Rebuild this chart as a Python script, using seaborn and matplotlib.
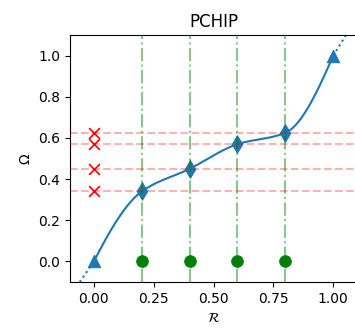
import numpy as np
import matplotlib
matplotlib.use('Agg')
import matplotlib.pyplot as plt
import seaborn as sns

# Knots of the interpolant
x_knots = [0.0, 0.2, 0.4, 0.6, 0.8, 1.0]
y_knots = [0.0, 0.34, 0.45, 0.57, 0.625, 1.0]

# Sample positions (green dots on the R axis) and their values (red crosses)
x_samples = [0.2, 0.4, 0.6, 0.8]
y_samples = [0.34, 0.45, 0.57, 0.625]

x_ticks = [0.0, 0.25, 0.5, 0.75, 1.0]
y_ticks = [0.0, 0.2, 0.4, 0.6, 0.8, 1.0]


def pchip_slopes(x, y):
    """Fritsch-Carlson slopes, same rules as scipy's PchipInterpolator"""
    h = np.diff(x)
    delta = np.diff(y) / h
    d = np.zeros_like(y)
    for k in range(1, len(x) - 1):
        if delta[k - 1] * delta[k] <= 0:
            d[k] = 0.0
        else:
            w1 = 2 * h[k] + h[k - 1]
            w2 = h[k] + 2 * h[k - 1]
            d[k] = (w1 + w2) / (w1 / delta[k - 1] + w2 / delta[k])

    def edge(h0, h1, m0, m1):
        dd = ((2 * h0 + h1) * m0 - h0 * m1) / (h0 + h1)
        if np.sign(dd) != np.sign(m0):
            dd = 0.0
        elif np.sign(m0) != np.sign(m1) and abs(dd) > 3 * abs(m0):
            dd = 3 * m0
        return dd

    d[0] = edge(h[0], h[1], delta[0], delta[1])
    d[-1] = edge(h[-1], h[-2], delta[-1], delta[-2])
    return d


def pchip_eval(x, y, xs):
    x = np.asarray(x, float)
    y = np.asarray(y, float)
    d = pchip_slopes(x, y)
    idx = np.clip(np.searchsorted(x, xs) - 1, 0, len(x) - 2)
    h = x[idx + 1] - x[idx]
    t = (xs - x[idx]) / h
    h00 = 2 * t**3 - 3 * t**2 + 1
    h10 = t**3 - 2 * t**2 + t
    h01 = -2 * t**3 + 3 * t**2
    h11 = t**3 - t**2
    return h00 * y[idx] + h10 * h * d[idx] + h01 * y[idx + 1] + h11 * h * d[idx + 1]


fig = plt.figure(figsize=(3.55, 3.31), dpi=100)
ax = fig.add_axes([0.197, 0.148, 0.809, 0.746])

# linear extension outside the knots (dotted), using the end chords
slope_lo = (y_knots[1] - y_knots[0]) / (x_knots[1] - x_knots[0])
slope_hi = (y_knots[-1] - y_knots[-2]) / (x_knots[-1] - x_knots[-2])
x_lo = np.array([-0.15, x_knots[0]])
x_hi = np.array([x_knots[-1], 1.15])
ax.plot(x_lo, y_knots[0] + slope_lo * (x_lo - x_knots[0]), ':', color='tab:blue', lw=1.5, zorder=2)
ax.plot(x_hi, y_knots[-1] + slope_hi * (x_hi - x_knots[-1]), ':', color='tab:blue', lw=1.5, zorder=2)

# interpolated part (solid)
xs_in = np.linspace(x_knots[0], x_knots[-1], 300)
sns.lineplot(x=xs_in, y=pchip_eval(x_knots, y_knots, xs_in), color='tab:blue', lw=1.5, ax=ax, zorder=3)

# knots
sns.scatterplot(x=[x_knots[0], x_knots[-1]], y=[y_knots[0], y_knots[-1]], marker='^',
                s=80, color='tab:blue', edgecolor='tab:blue', ax=ax, zorder=4)
sns.scatterplot(x=x_knots[1:-1], y=y_knots[1:-1], marker='d', s=80,
                color='tab:blue', edgecolor='tab:blue', ax=ax, zorder=4)

# samples on the axes
sns.scatterplot(x=x_samples, y=[0.0] * len(x_samples), marker='o', s=70,
                color='green', edgecolor='green', ax=ax, zorder=4)
sns.scatterplot(x=[0.0] * len(y_samples), y=y_samples, marker='x', s=60,
                color='red', linewidth=1.2, ax=ax, zorder=4)

# guide lines, drawn over the markers
for xv in x_samples:
    ax.axvline(xv, color='green', alpha=0.45, linestyle='-.', zorder=5)
for yv in y_samples:
    ax.axhline(yv, color='red', alpha=0.3, linestyle='--', zorder=5)

ax.set_xlim(-0.1, 1.1)
ax.set_ylim(-0.1, 1.1)
ax.set_xticks(x_ticks)
ax.set_yticks(y_ticks)
ax.set_xlabel(r'$\mathcal{R}$')
ax.set_ylabel(r'$\Omega$')
ax.set_title('PCHIP', fontsize=12)

fig.savefig('out.png', dpi=100)
